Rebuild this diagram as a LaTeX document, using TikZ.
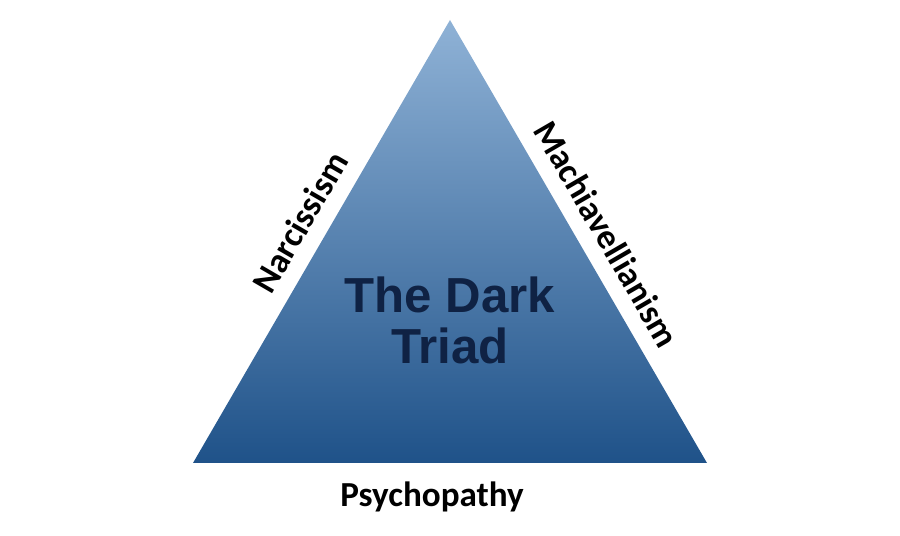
\documentclass[tikz,border=0pt]{standalone}
\usepackage{fontspec}
\setmainfont{Carlito}
\newfontfamily\titlefont{Liberation Sans}
\definecolor{triadtop}{HTML}{8FB2D6}
\definecolor{triadbottom}{HTML}{1F5289}
\definecolor{triadtext}{HTML}{0F2244}
\tikzset{
  sidelabel/.style={font=\fontsize{20}{24}\selectfont\bfseries, text=black},
}

\begin{document}
\begin{tikzpicture}[x=0.02cm, y=0.02cm]
		% frame 900 x 536
		\useasboundingbox (0, 0) rectangle (900, 536);

		% corners of the triangle
		\coordinate (apex) at (450, 516);
		\coordinate (left) at (193, 73);
		\coordinate (right) at (707, 73);

		% the shaded triangle
		\shade [top color=triadtop, bottom color=triadbottom] (apex) -- (right) -- (left) -- cycle;

		% title inside
		\node (title) [align=center, text=triadtext, font=\titlefont\fontsize{28}{29}\selectfont\bfseries] at (450, 216) {The Dark\\Triad};

		% names along the sides
		\node (narc) [sidelabel, rotate=59.9] at (300, 314) {Narcissism};
		\node (mach) [sidelabel, rotate=-59.9] at (607, 302) {Machiavellianism};
		\node (psych) [sidelabel] at (432, 39) {Psychopathy};
	\end{tikzpicture}
\end{document}
